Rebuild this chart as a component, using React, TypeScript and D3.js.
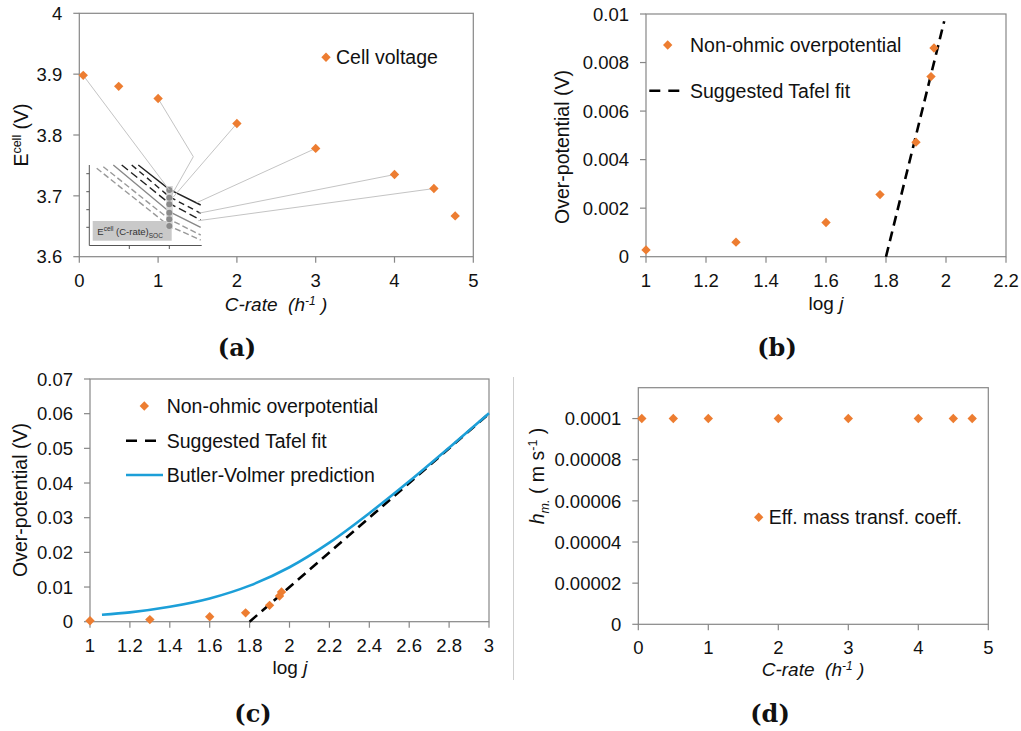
import * as d3 from 'd3';
import { useEffect, useRef } from 'react';

// (a) cell voltage against C-rate
const cRate = [0.05, 0.5, 1, 2, 3, 4, 4.5, 4.77];
const cellVoltage = [3.898, 3.88, 3.86, 3.819, 3.778, 3.735, 3.712, 3.667];

// (b), (c) non-ohmic overpotential against log j
const logJ = [1.0, 1.3, 1.6, 1.78, 1.9, 1.95, 1.96];
const overpotential = [0.00028, 0.0006, 0.00141, 0.00256, 0.00472, 0.00742, 0.0086];

// suggested Tafel fit (end points)
const tafelLogJB = [1.8, 1.994];
const tafelEtaB = [0, 0.0097];
const tafelLogJC = [1.8, 3];
const tafelEtaC = [0, 0.06];

// Butler-Volmer prediction
const bvLogJ = [1.06, 1.2, 1.4, 1.6, 1.8, 2.0, 2.2, 2.4, 2.6, 2.8, 3.0];
const bvEta = [0.002, 0.0027, 0.0043, 0.0067, 0.0104, 0.0157, 0.0228, 0.0313, 0.0405, 0.0502, 0.0601];

// (d) effective mass transfer coefficient
const massTransfer = [0.0001, 0.0001, 0.0001, 0.0001, 0.0001, 0.0001, 0.0001, 0.0001];

// tick labels
const xTicksA = [0, 1, 2, 3, 4, 5];
const yTicksA = [3.6, 3.7, 3.8, 3.9, 4];
const xTicksB = [1, 1.2, 1.4, 1.6, 1.8, 2, 2.2];
const yTicksB = [0, 0.002, 0.004, 0.006, 0.008, 0.01];
const xTicksC = [1, 1.2, 1.4, 1.6, 1.8, 2, 2.2, 2.4, 2.6, 2.8, 3];
const yTicksC = [0, 0.01, 0.02, 0.03, 0.04, 0.05, 0.06, 0.07];
const yTicksD = [0, 0.00002, 0.00004, 0.00006, 0.00008, 0.0001];

const W = 1021;
const H = 731;
const ORANGE = '#ED7D31';
const BLUE = '#1C9FD8';
const AXIS = '#878787';
const FONT = '"Liberation Sans", Arial, sans-serif';

const diamond = d3.symbol(d3.symbolSquare, 44)();

function frame(g, x, y, xt, yt) {
  const [xa, xb] = x.range();
  const [yb, ya] = y.range();
  g.append('rect')
    .attr('x', xa).attr('y', ya)
    .attr('width', xb - xa).attr('height', yb - ya)
    .attr('fill', 'none').attr('stroke', AXIS).attr('stroke-width', 1.2);
  g.selectAll(null).data(yt).enter().append('line')
    .attr('x1', xa - 6).attr('x2', xa)
    .attr('y1', d => y(d)).attr('y2', d => y(d))
    .attr('stroke', AXIS).attr('stroke-width', 1.2);
  g.selectAll(null).data(yt).enter().append('text')
    .attr('x', xa - 17).attr('y', d => y(d)).attr('dy', '0.36em')
    .attr('text-anchor', 'end').attr('font-size', 18.5)
    .text(d => String(d));
  g.selectAll(null).data(xt).enter().append('line')
    .attr('x1', d => x(d)).attr('x2', d => x(d))
    .attr('y1', yb).attr('y2', yb + 6)
    .attr('stroke', AXIS).attr('stroke-width', 1.2);
  g.selectAll(null).data(xt).enter().append('text')
    .attr('x', d => x(d)).attr('y', yb + 23.5).attr('dy', '0.36em')
    .attr('text-anchor', 'middle').attr('font-size', 18.5)
    .text(d => String(d));
}

function diamonds(g, xs, ys, x, y) {
  g.selectAll(null).data(xs).enter().append('path')
    .attr('d', diamond)
    .attr('transform', (d, i) => `translate(${x(d)},${y(ys[i])}) rotate(45)`)
    .attr('fill', ORANGE);
}

function legendText(g, px, py, label) {
  g.append('text').attr('x', px).attr('y', py).attr('dy', '0.36em')
    .attr('font-size', 19.5).text(label);
}

function crateLabel(g, cx, cy) {
  const t = g.append('text').attr('x', cx).attr('y', cy).attr('dy', '0.36em')
    .attr('text-anchor', 'middle').attr('font-size', 19).attr('font-style', 'italic')
    .style('white-space', 'pre');
  t.append('tspan').text('C-rate  (h');
  t.append('tspan').attr('font-size', 12).attr('dy', -6).text('-1');
  t.append('tspan').attr('dy', 6).text(' )');
}

function logJLabel(g, cx, cy) {
  const t = g.append('text').attr('x', cx).attr('y', cy).attr('dy', '0.36em')
    .attr('text-anchor', 'middle').attr('font-size', 19).style('white-space', 'pre');
  t.append('tspan').text('log ');
  t.append('tspan').attr('font-style', 'italic').text('j');
}

function overpotLabel(g, cx, cy) {
  g.append('text').attr('transform', `translate(${cx},${cy}) rotate(-90)`)
    .attr('dy', '0.36em').attr('text-anchor', 'middle').attr('font-size', 19.5)
    .text('Over-potential (V)');
}

function caption(g, cx, cy, label) {
  g.append('text').attr('x', cx).attr('y', cy).attr('dy', '0.36em')
    .attr('text-anchor', 'middle')
    .attr('font-family', '"DejaVu Serif", "Liberation Serif", serif')
    .attr('font-weight', 'bold').attr('font-size', 24).text(label);
}

export default function App() {
  const ref = useRef(null);

  useEffect(() => {
    const svg = d3.select(ref.current);
    svg.selectAll('*').remove();
    const root = svg.append('g').attr('font-family', FONT).attr('fill', '#111');

    // ---------- (a) ----------
    const xA = d3.scaleLinear().domain([0, 5]).range([79.3, 473.3]);
    const yA = d3.scaleLinear().domain([3.6, 4]).range([256.7, 13.3]);
    const gA = root.append('g');
    frame(gA, xA, yA, xTicksA, yTicksA);

    // inset picture of E(C-rate) curves
    const ins = gA.append('g').attr('transform', 'translate(89.3,165)');
    ins.append('line').attr('x1', 0).attr('x2', 0).attr('y1', 0).attr('y2', 80.5).attr('stroke', '#555');
    ins.append('line').attr('x1', 0).attr('x2', 112.4).attr('y1', 80.5).attr('y2', 80.5).attr('stroke', '#555');
    ins.selectAll(null).data([8.7, 26.7, 44.7, 62.3]).enter().append('line')
      .attr('x1', -3).attr('x2', 0).attr('y1', d => d).attr('y2', d => d).attr('stroke', '#555');
    ins.selectAll(null).data([40, 80]).enter().append('line')
      .attr('x1', d => d).attr('x2', d => d).attr('y1', 80.5).attr('y2', 84).attr('stroke', '#555');
    const insetLines = [
      { pts: [[49, 0], [80, 24.3], [111.4, 40]], color: '#222', dash: null },
      { pts: [[42.4, 0], [80, 31.7], [111.4, 48.3]], color: '#222', dash: '6,4' },
      { pts: [[32.4, 0], [80, 38.3], [111.4, 55]], color: '#222', dash: '8,4' },
      { pts: [[24, 0], [80, 46.7], [111.4, 62.3]], color: '#888', dash: null },
      { pts: [[14, 1.7], [80, 54.3], [111.4, 70]], color: '#999', dash: '6,3' },
      { pts: [[7.4, 3.3], [80, 61], [111.4, 75]], color: '#999', dash: '6,3' },
    ];
    const insLine = d3.line();
    ins.selectAll(null).data(insetLines).enter().append('path')
      .attr('d', d => insLine(d.pts)).attr('fill', 'none')
      .attr('stroke', d => d.color).attr('stroke-width', 1.4)
      .attr('stroke-dasharray', d => d.dash);
    ins.append('rect').attr('x', 3.4).attr('y', 56).attr('width', 79).attr('height', 19.7).attr('fill', '#c9c9c9');
    const it = ins.append('text').attr('x', 8).attr('y', 70).attr('font-size', 9.5).attr('fill', '#333');
    it.append('tspan').text('E');
    it.append('tspan').attr('font-size', 6.5).attr('dy', -4).text('cell');
    it.append('tspan').attr('dy', 4).text(' (C-rate)');
    it.append('tspan').attr('font-size', 6.5).attr('dy', 3).text('SOC');
    ins.append('rect').attr('x', 77).attr('y', 21).attr('width', 6.5).attr('height', 43).attr('fill', '#d6d6d6');
    ins.selectAll(null).data([25, 32.7, 39.3, 47.7, 54.3, 61]).enter().append('circle')
      .attr('cx', 80).attr('cy', d => d).attr('r', 3).attr('fill', '#8a8a8a');

    // connectors from the points to the inset
    const connectors = [
      { i: 0, to: [[169.3, 190]] },
      { i: 2, to: [[193.3, 156.7], [171.7, 195]] },
      { i: 3, to: [[173.3, 197]] },
      { i: 4, to: [[196.7, 202.7]] },
      { i: 5, to: [[198.3, 213.3]] },
      { i: 6, to: [[198.3, 220.7]] },
    ];
    gA.selectAll(null).data(connectors).enter().append('path')
      .attr('d', d => d3.line()([[xA(cRate[d.i]), yA(cellVoltage[d.i])], ...d.to]))
      .attr('fill', 'none').attr('stroke', '#c4c4c4').attr('stroke-width', 1);

    diamonds(gA, cRate, cellVoltage, xA, yA);
    gA.append('path').attr('d', diamond).attr('transform', 'translate(326,57.3) rotate(45)').attr('fill', ORANGE);
    legendText(gA, 336, 57.3, 'Cell voltage');
    const ea = gA.append('text').attr('transform', 'translate(21,135) rotate(-90)')
      .attr('dy', '0.36em').attr('text-anchor', 'middle').attr('font-size', 19.5);
    ea.append('tspan').text('E');
    ea.append('tspan').attr('font-size', 12.5).attr('dy', -7).text('cell');
    ea.append('tspan').attr('dy', 7).text(' (V)');
    crateLabel(gA, 276, 304);
    caption(gA, 237, 347, '(a)');

    // ---------- (b) ----------
    const xB = d3.scaleLinear().domain([1, 2.2]).range([646, 1006]);
    const yB = d3.scaleLinear().domain([0, 0.01]).range([256.7, 14]);
    const gB = root.append('g');
    frame(gB, xB, yB, xTicksB, yTicksB);
    const lineB = d3.line().x(d => xB(d[0])).y(d => yB(d[1]));
    gB.append('path').attr('d', lineB(d3.zip(tafelLogJB, tafelEtaB)))
      .attr('fill', 'none').attr('stroke', '#000').attr('stroke-width', 2.6).attr('stroke-dasharray', '10,6');
    diamonds(gB, logJ, overpotential, xB, yB);
    gB.append('path').attr('d', diamond).attr('transform', 'translate(667.7,45) rotate(45)').attr('fill', ORANGE);
    legendText(gB, 690, 45, 'Non-ohmic overpotential');
    gB.append('line').attr('x1', 649.3).attr('x2', 679.3).attr('y1', 90.7).attr('y2', 90.7)
      .attr('stroke', '#000').attr('stroke-width', 2.6).attr('stroke-dasharray', '11,8');
    legendText(gB, 690, 90.7, 'Suggested Tafel fit');
    overpotLabel(gB, 562, 147);
    logJLabel(gB, 826, 303);
    caption(gB, 777, 347, '(b)');

    // ---------- (c) ----------
    const xC = d3.scaleLinear().domain([1, 3]).range([90, 489]);
    const yC = d3.scaleLinear().domain([0, 0.07]).range([621.7, 379]);
    const gC = root.append('g');
    frame(gC, xC, yC, xTicksC, yTicksC);
    const lineC = d3.line().x(d => xC(d[0])).y(d => yC(d[1]));
    gC.append('path').attr('d', lineC(d3.zip(tafelLogJC, tafelEtaC)))
      .attr('fill', 'none').attr('stroke', '#000').attr('stroke-width', 2.6).attr('stroke-dasharray', '10,6');
    gC.append('path').attr('d', lineC.curve(d3.curveMonotoneX)(d3.zip(bvLogJ, bvEta)))
      .attr('fill', 'none').attr('stroke', BLUE).attr('stroke-width', 2.6);
    diamonds(gC, logJ, overpotential, xC, yC);
    gC.append('path').attr('d', diamond).attr('transform', 'translate(144.3,406) rotate(45)').attr('fill', ORANGE);
    legendText(gC, 166.7, 406, 'Non-ohmic overpotential');
    gC.append('line').attr('x1', 126).attr('x2', 156).attr('y1', 440.7).attr('y2', 440.7)
      .attr('stroke', '#000').attr('stroke-width', 2.6).attr('stroke-dasharray', '11,8');
    legendText(gC, 166.7, 440.7, 'Suggested Tafel fit');
    gC.append('line').attr('x1', 126).attr('x2', 163).attr('y1', 475).attr('y2', 475)
      .attr('stroke', BLUE).attr('stroke-width', 2.6);
    legendText(gC, 166.7, 475, 'Butler-Volmer prediction');
    overpotLabel(gC, 20, 500);
    logJLabel(gC, 290, 667);
    caption(gC, 253, 713, '(c)');

    // ---------- (d) ----------
    root.append('line').attr('x1', 513.5).attr('x2', 513.5).attr('y1', 377).attr('y2', 680)
      .attr('stroke', '#cfcfcf').attr('stroke-width', 1);
    const xD = d3.scaleLinear().domain([0, 5]).range([638.3, 988.3]);
    const yD = d3.scaleLinear().domain([0, 0.000115]).range([624.3, 387.7]);
    const gD = root.append('g');
    frame(gD, xD, yD, xTicksA, yTicksD);
    diamonds(gD, cRate, massTransfer, xD, yD);
    gD.append('path').attr('d', diamond).attr('transform', 'translate(758.7,517.3) rotate(45)').attr('fill', ORANGE);
    legendText(gD, 768.7, 517.3, 'Eff. mass transf. coeff.');
    const hd = gD.append('text').attr('transform', 'translate(537,476) rotate(-90)')
      .attr('dy', '0.36em').attr('text-anchor', 'middle').attr('font-size', 19.5)
      .style('white-space', 'pre');
    hd.append('tspan').attr('font-style', 'italic').text('h');
    hd.append('tspan').attr('font-style', 'italic').attr('font-size', 12.5).attr('dy', 5).text('m.');
    hd.append('tspan').attr('dy', -5).text(' ( m s');
    hd.append('tspan').attr('font-size', 12.5).attr('dy', -7).text('-1');
    hd.append('tspan').attr('dy', 7).text(' )');
    crateLabel(gD, 813, 669);
    caption(gD, 770, 713, '(d)');
  }, []);

  return (
    <svg
      ref={ref}
      width={W}
      height={H}
      style={{ position: 'absolute', left: 0, top: 0, background: '#fff' }}
    />
  );
}
